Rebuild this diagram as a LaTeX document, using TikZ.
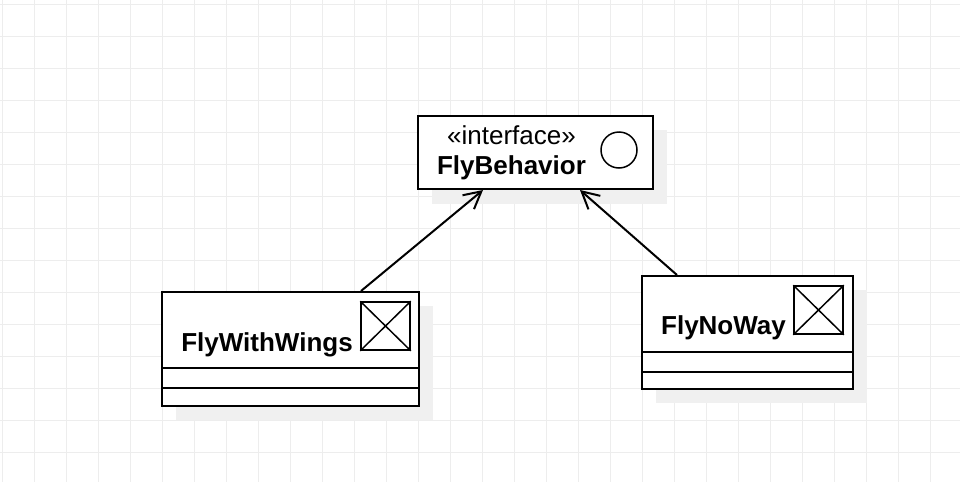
\documentclass[tikz,border=0pt]{standalone}
\usepackage{fontspec}
\setmainfont{Liberation Sans}
\usetikzlibrary{arrows.meta,calc}
\definecolor{gridc}{HTML}{EDEDED}
\definecolor{shadowc}{HTML}{F0F0F0}
\tikzset{
  umlbox/.style={draw=black, line width=2pt, fill=white, inner sep=0pt, rectangle},
  shadowbox/.style={fill=shadowc, draw=none},
  divider/.style={line width=2pt},
  iconline/.style={line width=1.5pt},
  arr/.style={line width=2pt, -{Straight Barb[length=17pt,width=18pt,line width=2pt]}},
  titletext/.style={font=\fontsize{26}{30}\selectfont\bfseries, anchor=base, inner sep=0pt},
  stereotext/.style={font=\fontsize{26}{30}\selectfont, anchor=base, inner sep=0pt}
}
\begin{document}
\begin{tikzpicture}[x=1pt,y=-1pt]
\useasboundingbox (0,0) rectangle (960,482);
\fill[white] (0,0) rectangle (960,482);
% grid
\foreach \gx in {2,34,...,962} \draw[gridc, line width=1pt] (\gx,0) -- (\gx,482);
\foreach \gy in {4,36,...,484} \draw[gridc, line width=1pt] (0,\gy) -- (960,\gy);
% shadows
\fill[shadowbox] (432,130) rectangle (667,204);
\fill[shadowbox] (176,306) rectangle (433,420);
\fill[shadowbox] (656,290) rectangle (867,403);
% FlyBehavior
\node[umlbox, minimum width=235pt, minimum height=73pt] (fb) at (535.5,152.5) {};
\node[stereotext] (fbst) at (511.5,144) {«interface»};
\node[titletext] (fbt) at (511.5,174) {FlyBehavior};
\node[draw, circle, line width=1.5pt, minimum size=36pt, inner sep=0pt] (fbc) at (619,150) {};
% FlyWithWings
\node[umlbox, minimum width=257pt, minimum height=114pt] (fww) at (290.5,349) {};
\draw[divider] (fww.west |- 0,368) -- (fww.east |- 0,368);
\draw[divider] (fww.west |- 0,388) -- (fww.east |- 0,388);
\node[titletext] (fwwt) at (267,351) {FlyWithWings};
\node[draw, iconline, minimum width=49pt, minimum height=48pt, inner sep=0pt] (fwwi) at (385.5,326) {};
\draw[iconline] (fwwi.north west) -- (fwwi.south east);
\draw[iconline] (fwwi.north east) -- (fwwi.south west);
% FlyNoWay
\node[umlbox, minimum width=211pt, minimum height=113pt] (fnw) at (747.5,332.5) {};
\draw[divider] (fnw.west |- 0,352) -- (fnw.east |- 0,352);
\draw[divider] (fnw.west |- 0,372) -- (fnw.east |- 0,372);
\node[titletext] (fnwt) at (723.5,334) {FlyNoWay};
\node[draw, iconline, minimum width=49pt, minimum height=48pt, inner sep=0pt] (fnwi) at (818.5,310) {};
\draw[iconline] (fnwi.north west) -- (fnwi.south east);
\draw[iconline] (fnwi.north east) -- (fnwi.south west);
% connectors
\draw[arr] ([xshift=200pt]fww.north west) -- ([xshift=66pt]fb.south west);
\draw[arr] ([xshift=36pt]fnw.north west) -- ([xshift=163pt]fb.south west);
\end{tikzpicture}
\end{document}
